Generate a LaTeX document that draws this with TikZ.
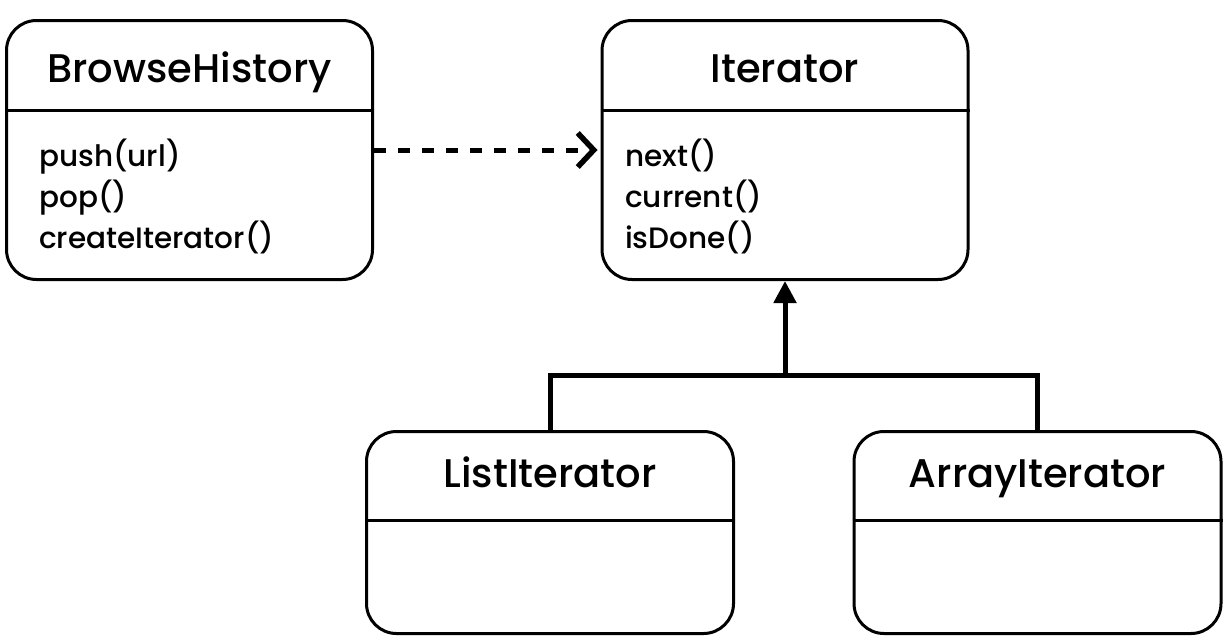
\documentclass[tikz,border=0pt]{standalone}
\usepackage{fontspec}
\setmainfont{Poppins}
\newfontfamily\medfont{Poppins Medium}
\usetikzlibrary{arrows.meta}
\tikzset{
  classbox/.style={draw=black, line width=3pt, rounded corners=30pt, fill=white, inner sep=0pt},
  divider/.style={draw=black, line width=3pt},
  titletext/.style={anchor=base, inner sep=0pt, font=\medfont\fontsize{40}{44}\selectfont},
  membertext/.style={anchor=base west, inner sep=0pt, font=\medfont\fontsize{29.5}{32}\selectfont},
  depend/.style={line width=5pt, dash pattern=on 12pt off 12pt, -{Straight Barb[length=16pt,width=34pt,line width=5.5pt]}},
  inherit/.style={line width=5pt},
  inherittip/.style={line width=5pt, -{Triangle[length=22pt,width=22pt]}}
}
\begin{document}
\begin{tikzpicture}[x=1pt,y=-1pt]
\useasboundingbox[fill=white] (0,0) rectangle (1230,643);
% boxes
\node[classbox, minimum width=366pt, minimum height=259pt] (bh) at (189.5,150) {};
\node[classbox, minimum width=366pt, minimum height=259pt] (it) at (785,150) {};
\node[classbox, minimum width=367pt, minimum height=202pt] (li) at (550,532.5) {};
\node[classbox, minimum width=367pt, minimum height=202pt] (ai) at (1037.5,532.5) {};
% dividers
\draw[divider] (bh.west |- 0,110) -- (bh.east |- 0,110);
\draw[divider] (it.west |- 0,110) -- (it.east |- 0,110);
\draw[divider] (li.west |- 0,520) -- (li.east |- 0,520);
\draw[divider] (ai.west |- 0,520) -- (ai.east |- 0,520);
% titles
\node[titletext] (bht) at (189.5,82) {BrowseHistory};
\node[titletext] (itt) at (785,82) {Iterator};
\node[titletext] (lit) at (550,487) {ListIterator};
\node[titletext] (ait) at (1037.5,487) {ArrayIterator};
% members
\node[membertext] (m1) at (39,166) {push(url)};
\node[membertext] (m2) at (39,207) {pop()};
\node[membertext] (m3) at (39,248) {createIterator()};
\node[membertext] (m4) at (625,166) {next()};
\node[membertext] (m5) at (625,207) {current()};
\node[membertext] (m6) at (625,248) {isDone()};
% connectors
\draw[depend, shorten >=3pt] (bh.east |- 0,150) -- (it.west |- 0,150);
\coordinate (j) at (785,375);
\draw[inherit] (li.north) -- (li.north |- j) -- (ai.north |- j) -- (ai.north);
\draw[inherittip] (j) -- (it.south);
\end{tikzpicture}
\end{document}
